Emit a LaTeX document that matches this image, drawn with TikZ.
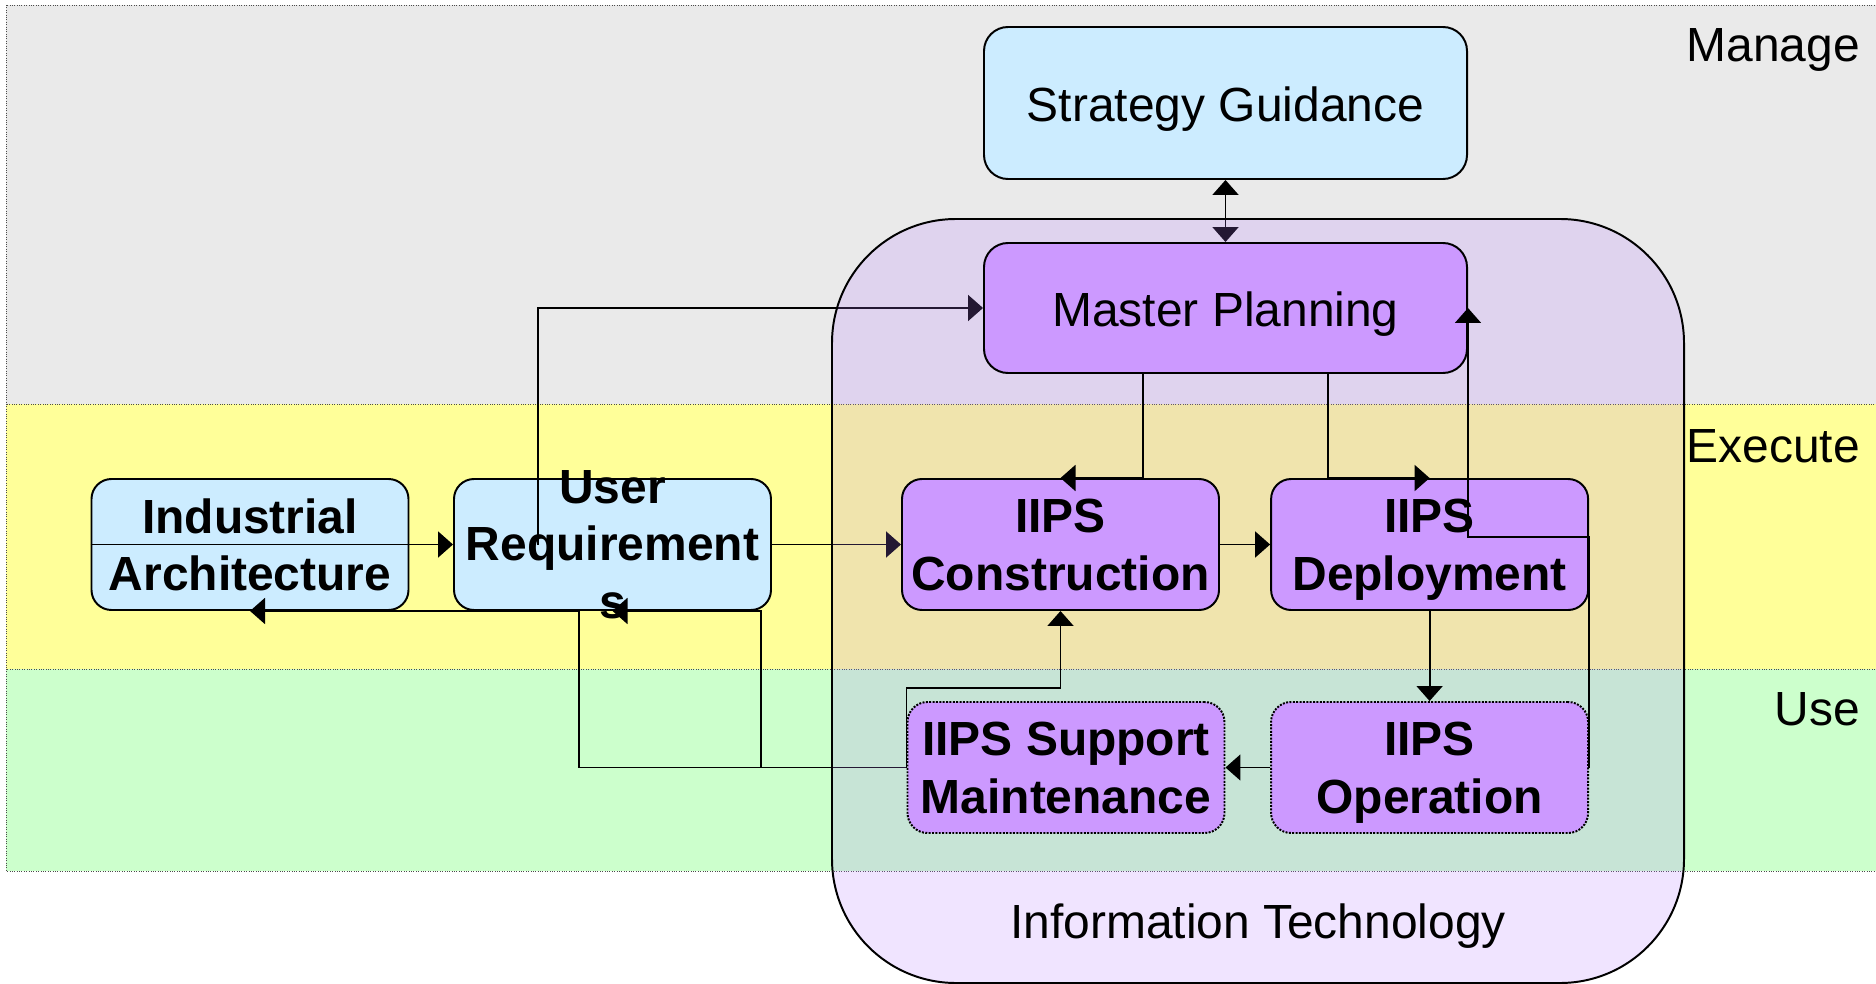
\documentclass[tikz,border=0pt]{standalone}
\usepackage{fontspec}
\setmainfont{Liberation Sans}
\usetikzlibrary{arrows.meta}

\definecolor{managegray}{HTML}{EAEAEA}
\definecolor{executeyellow}{HTML}{FFFF99}
\definecolor{usegreen}{HTML}{CCFFCC}
\definecolor{boxblue}{HTML}{CCECFF}
\definecolor{boxpurple}{HTML}{CC99FF}
\definecolor{itpurple}{RGB}{180,120,255}

\pgfdeclarelayer{back}
\pgfdeclarelayer{links}
\pgfdeclarelayer{glass}
\pgfsetlayers{back,links,glass,main}

\begin{document}
\begin{tikzpicture}[
        >={Triangle[length=0.375cm, width=0.65cm]},
        plain/.style={font={\fontsize{34.1}{41}\selectfont}},
        heavy/.style={font={\fontsize{34.1}{41}\selectfont\bfseries}, align=center},
        boxtext/.style={text depth=0pt, execute at begin node={\rule{0pt}{27pt}}},
        band/.style={draw=black!70, densely dotted, line width=0.7pt},
        rowlabel/.style={plain, anchor=base east, inner sep=0pt},
        stage/.style={heavy, boxtext, draw, line width=1.4pt, rounded corners=0.5cm,
            minimum width=7.925cm, minimum height=3.275cm, inner sep=0pt},
        userbox/.style={stage, fill=boxblue},
        itbox/.style={stage, fill=boxpurple},
        runbox/.style={itbox, densely dotted},
        wide/.style={plain, minimum width=12.075cm, rounded corners=0.6cm},
        link/.style={->, line width=1.3pt}
    ]
    \useasboundingbox (0,0) rectangle (46.9,-24.6);

    % swim lanes
    \begin{pgfonlayer}{back}
        \draw[band, fill=managegray] (0.15,-0.125) rectangle (47.5,-10.1);
        \draw[band, fill=executeyellow] (0.15,-10.1) rectangle (47.5,-16.725);
        \draw[band, fill=usegreen] (0.15,-16.725) rectangle (47.5,-21.775);
        \node[rowlabel] (manage) at (46.5,-1.55) {Manage};
        \node[rowlabel] (execute) at (46.5,-11.55) {Execute};
        \node[rowlabel] (use) at (46.5,-18.125) {Use};

        \node[userbox, wide, minimum height=3.8cm] (strategy) at (30.6375,-2.575) {Strategy Guidance};
        \node[userbox] (industrial) at (6.25,-13.6125) {Industrial\\Architecture};
        \node[userbox] (userreq) at (15.3125,-13.6125) {};
    \end{pgfonlayer}

    % IT stages
    \node[itbox, wide, minimum height=3.25cm] (planning) at (30.6375,-7.7) {Master Planning};
    \node[itbox] (construction) at (26.5125,-13.6125) {IIPS\\Construction};
    \node[itbox] (deployment) at (35.74,-13.6125) {IIPS\\Deployment};
    \node[runbox] (support) at (26.65,-19.1875) {IIPS Support\\Maintenance};
    \node[runbox] (operation) at (35.74,-19.1875) {IIPS\\Operation};

    \begin{pgfonlayer}{glass}
        \node[draw, line width=1.4pt, rounded corners=3.1cm, fill=itpurple, fill opacity=0.2,
            minimum width=21.3cm, minimum height=19.1cm] (itzone) at (31.45,-15.025) {};
    \end{pgfonlayer}
    \node[plain, anchor=base] (itlabel) at (31.45,-23.45) {Information Technology};

    % links that enter the IT zone
    \coordinate (reqtap) at ([xshift=-1.86cm]userreq.center);
    \begin{pgfonlayer}{links}
        \draw[link, <->] (strategy.south) -- (planning.north);
        \draw[link] (industrial.west) -- (userreq.west);
        \draw[link] (reqtap) |- (planning.west);
        \draw[link] (userreq.east) -- (construction.west);
        \draw[link] (support.west) -| ([xshift=-0.84cm]userreq.south) -- (industrial.south);
        \draw[link] (support.west) -| ([xshift=3.71cm]userreq.south) -- (userreq.south);
    \end{pgfonlayer}

    % links inside the IT zone
    \draw[link] ([xshift=-2.06cm]planning.south) |- (construction.north);
    \draw[link] ([xshift=2.56cm]planning.south) |- (deployment.north);
    \draw[link] (operation.east) -- ([yshift=0.19cm]deployment.east) -| (planning.east);
    \draw[link] (construction.east) -- (deployment.west);
    \draw[link] (deployment.south) -- (operation.north);
    \draw[link] (operation.west) -- (support.east);
    \draw[link] (support.west) -- ++(0,1.99) -| (construction.south);

    \node[heavy, boxtext] (reqtext) at (userreq) {User\\Requirement\\s};
\end{tikzpicture}
\end{document}
